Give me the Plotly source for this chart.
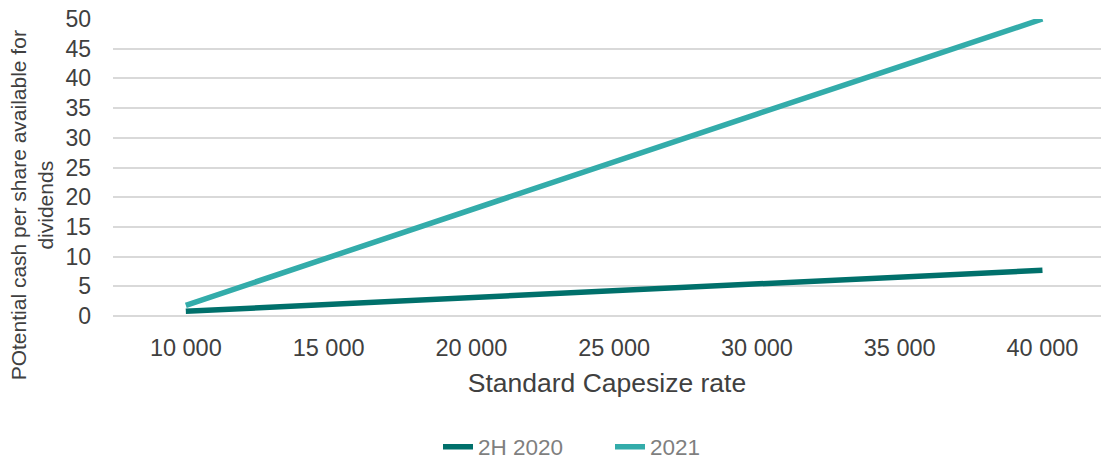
import plotly.graph_objects as go

categories = ["10 000", "15 000", "20 000", "25 000", "30 000", "35 000", "40 000"]
series_2h2020 = [0.8, 1.95, 3.1, 4.25, 5.4, 6.55, 7.7]
series_2021 = [1.8, 9.9, 17.9, 26.0, 34.0, 42.0, 50.0]
y_ticks = [0, 5, 10, 15, 20, 25, 30, 35, 40, 45, 50]

FONT = "Liberation Sans, Arial, sans-serif"

fig = go.Figure()
fig.add_trace(go.Scatter(x=categories, y=series_2h2020, mode="lines", name="2H 2020",
                         line=dict(color="#00706B", width=5.5)))
fig.add_trace(go.Scatter(x=categories, y=series_2021, mode="lines", name="2021",
                         line=dict(color="#33ACAA", width=5.5)))

fig.update_layout(
    width=1101, height=461,
    margin=dict(l=113, r=0, t=19, b=145, pad=0, autoexpand=False),
    plot_bgcolor="white", paper_bgcolor="white",
    font=dict(family=FONT, color="#404040"),
    showlegend=True,
    legend=dict(orientation="h", xref="container", yref="container",
                x=438 / 1101, xanchor="left", y=1 - 447 / 461, yanchor="middle",
                font=dict(size=22.5, color="#7F7F7F"), itemwidth=30, tracegroupgap=0,
                entrywidth=127, entrywidthmode="pixels",
                bgcolor="rgba(0,0,0,0)"),
    xaxis=dict(type="category", range=[-0.51, 6.41], showgrid=False, showline=False, automargin=False,
               ticks="", tickfont=dict(size=23.5, color="#404040"), ticklabelstandoff=15,
               title=dict(text="Standard Capesize rate", font=dict(size=26.5, color="#404040"), standoff=13)),
    yaxis=dict(range=[0, 50], tickvals=y_ticks, showgrid=True, gridcolor="#D9D9D9", gridwidth=1.5,
               automargin=False,
               zeroline=True, zerolinecolor="#D9D9D9", zerolinewidth=1.5, showline=False, ticks="",
               tickfont=dict(size=23, color="#404040"), ticklabelstandoff=21),
    annotations=[dict(text="POtential cash per share available for<br>dividends", textangle=-90,
                      xref="paper", yref="paper", x=(32 - 113) / 988, y=(315.5 - 205) / 296.5,
                      xanchor="center", yanchor="middle", showarrow=False,
                      font=dict(size=21, color="#404040", family=FONT))],
)

fig.write_html("out.html")
